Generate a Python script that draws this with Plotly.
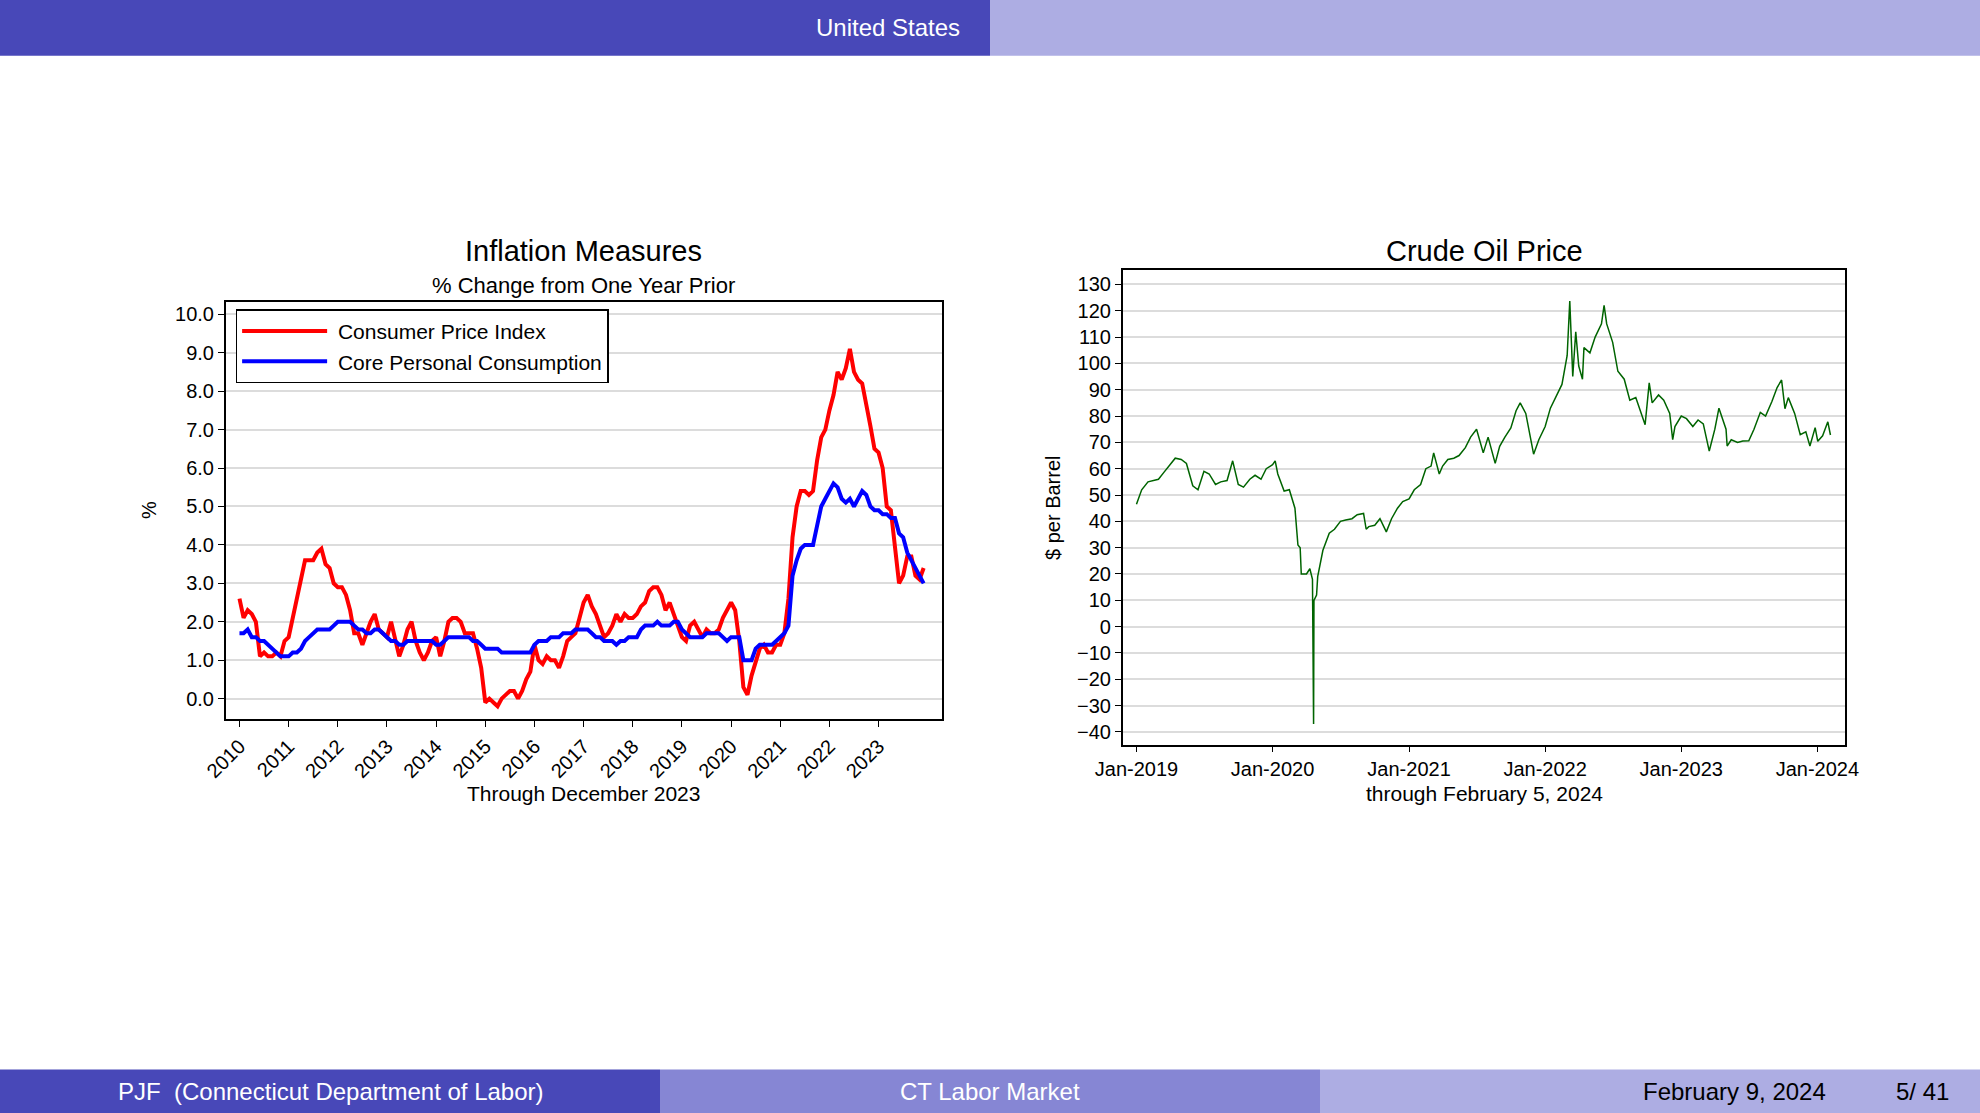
import plotly.graph_objects as go

years = list(range(2010, 2024))
cpi = [2.6,2.1,2.3,2.2,2.0,1.1,1.2,1.1,1.1,1.2,1.1,1.5,
       1.6,2.1,2.7,3.2,3.6,3.6,3.6,3.8,3.9,3.5,3.4,3.0,
       2.9,2.9,2.7,2.3,1.7,1.7,1.4,1.7,2.0,2.2,1.8,1.7,
       1.6,2.0,1.5,1.1,1.4,1.8,2.0,1.5,1.2,1.0,1.2,1.5,
       1.6,1.1,1.5,2.0,2.1,2.1,2.0,1.7,1.7,1.7,1.3,0.8,
       -0.1,0.0,-0.1,-0.2,0.0,0.1,0.2,0.2,0.0,0.2,0.5,0.7,
       1.4,1.0,0.9,1.1,1.0,1.0,0.8,1.1,1.5,1.6,1.7,2.1,
       2.5,2.7,2.4,2.2,1.9,1.6,1.7,1.9,2.2,2.0,2.2,2.1,
       2.1,2.2,2.4,2.5,2.8,2.9,2.9,2.7,2.3,2.5,2.2,1.9,
       1.6,1.5,1.9,2.0,1.8,1.6,1.8,1.7,1.7,1.8,2.1,2.3,
       2.5,2.3,1.5,0.3,0.1,0.6,1.0,1.3,1.4,1.2,1.2,1.4,
       1.4,1.7,2.6,4.2,5.0,5.4,5.4,5.3,5.4,6.2,6.8,7.0,
       7.5,7.9,8.5,8.3,8.6,9.1,8.5,8.3,8.2,7.7,7.1,6.5,
       6.4,6.0,5.0,4.9,4.0,3.0,3.2,3.7,3.7,3.2,3.1,3.4]
core_pce = [1.7,1.7,1.8,1.6,1.6,1.5,1.5,1.4,1.3,1.2,1.1,1.1,
            1.1,1.2,1.2,1.3,1.5,1.6,1.7,1.8,1.8,1.8,1.8,1.9,
            2.0,2.0,2.0,2.0,1.9,1.8,1.8,1.7,1.7,1.8,1.8,1.7,
            1.6,1.5,1.5,1.4,1.4,1.5,1.5,1.5,1.5,1.5,1.5,1.5,
            1.4,1.4,1.5,1.6,1.6,1.6,1.6,1.6,1.6,1.5,1.5,1.4,
            1.3,1.3,1.3,1.3,1.2,1.2,1.2,1.2,1.2,1.2,1.2,1.2,
            1.4,1.5,1.5,1.5,1.6,1.6,1.6,1.7,1.7,1.7,1.8,1.8,
            1.8,1.8,1.7,1.6,1.6,1.5,1.5,1.5,1.4,1.5,1.5,1.6,
            1.6,1.6,1.8,1.9,1.9,1.9,2.0,1.9,1.9,1.9,2.0,2.0,
            1.8,1.7,1.6,1.6,1.6,1.6,1.7,1.7,1.7,1.7,1.6,1.5,
            1.6,1.6,1.6,1.0,1.0,1.0,1.3,1.4,1.4,1.4,1.4,1.5,
            1.6,1.7,1.9,3.2,3.6,3.9,4.0,4.0,4.0,4.5,5.0,5.2,
            5.4,5.6,5.5,5.2,5.1,5.2,5.0,5.2,5.4,5.3,5.0,4.9,
            4.9,4.8,4.8,4.7,4.7,4.3,4.2,3.8,3.6,3.4,3.2,3.0]
months = [y + m / 12 for y in years for m in range(12)]

oil_dates = ["2019-01-01","2019-01-15","2019-02-01","2019-02-15","2019-03-01","2019-03-15","2019-04-01","2019-04-15",
 "2019-05-01","2019-05-15","2019-06-01","2019-06-15","2019-07-01","2019-07-15","2019-08-01","2019-08-15","2019-09-01",
 "2019-09-16","2019-10-01","2019-10-15","2019-11-01","2019-11-15","2019-12-01","2019-12-15",
 "2020-01-01","2020-01-08","2020-01-15","2020-02-01","2020-02-15","2020-03-01","2020-03-09","2020-03-15","2020-03-18",
 "2020-04-01","2020-04-10","2020-04-17","2020-04-20","2020-04-21","2020-04-28","2020-05-01","2020-05-15","2020-06-01",
 "2020-06-15","2020-07-01","2020-07-15","2020-08-01","2020-08-15","2020-09-01","2020-09-08","2020-09-15","2020-10-01",
 "2020-10-15","2020-11-01","2020-11-15","2020-12-01","2020-12-15",
 "2021-01-01","2021-01-15","2021-02-01","2021-02-15","2021-03-01","2021-03-08","2021-03-23","2021-04-01","2021-04-15",
 "2021-05-01","2021-05-15","2021-06-01","2021-06-15","2021-07-01","2021-07-19","2021-08-01","2021-08-20","2021-09-01",
 "2021-09-15","2021-10-01","2021-10-15","2021-10-26","2021-11-10","2021-11-26","2021-12-01","2021-12-15",
 "2022-01-01","2022-01-15","2022-02-01","2022-02-15","2022-03-01","2022-03-08","2022-03-16","2022-03-24","2022-04-01",
 "2022-04-11","2022-04-15","2022-05-01","2022-05-15","2022-06-01","2022-06-08","2022-06-15","2022-07-01","2022-07-15",
 "2022-08-01","2022-08-16","2022-09-01","2022-09-26","2022-10-07","2022-10-15","2022-11-01","2022-11-15","2022-12-01",
 "2022-12-09","2022-12-15",
 "2023-01-01","2023-01-15","2023-02-01","2023-02-15","2023-03-01","2023-03-17","2023-04-01","2023-04-12","2023-05-01",
 "2023-05-04","2023-05-15","2023-06-01","2023-06-15","2023-07-01","2023-07-15","2023-08-01","2023-08-15","2023-09-01",
 "2023-09-15","2023-09-27","2023-10-06","2023-10-15","2023-11-01","2023-11-16","2023-12-01","2023-12-12","2023-12-26",
 "2024-01-02","2024-01-15","2024-01-29","2024-02-05"]
oil_price = [46.5,52,55,55.5,56,58.5,61.5,64,63.5,62,53.5,52,59,58,54,55,55.5,63,54,53,56,57.5,56,60,
 61.5,63,58,51.5,52,45,31,30,20,20,22,18,-37,10,12,19,29,35.5,37,40,40.5,41,42.5,43,37,38,38.5,41,36,41,45,47.5,
 48.5,52,54,60,61,66,58,61,63.5,64,65,68,72,75,66,72,62,68.5,72,75.5,82,85,81,68.5,65.5,71,
 76,83,88,92,103,123.7,95,112,99,94,106,104,110,115,122,115,108,97,94,86,87,76.7,92.6,85,88,86,81,71,76,
 80,79,76,78.5,77,66.7,75,83,75,68.6,71,70,70.5,70.6,75,81.4,80,85.5,90.8,93.7,82.8,87,81,72.9,74,68.6,75.6,
 70.4,72.5,77.8,72.8]

FONT = "Liberation Sans, Arial, sans-serif"
PAD = "\u00a0"
fig = go.Figure()
fig.add_trace(go.Scatter(x=months, y=cpi, mode="lines", name=PAD + "Consumer Price Index",
                         line=dict(color="#ff0000", width=4), xaxis="x", yaxis="y"))
fig.add_trace(go.Scatter(x=months, y=core_pce, mode="lines", name=PAD + "Core Personal Consumption",
                         line=dict(color="#0000ff", width=4), xaxis="x", yaxis="y"))
fig.add_trace(go.Scatter(x=oil_dates, y=oil_price, mode="lines", showlegend=False,
                         line=dict(color="#006400", width=1.5), xaxis="x2", yaxis="y2"))

ax_common = dict(showline=True, linecolor="black", linewidth=1.5, mirror=True, ticks="outside",
                 ticklen=6, tickcolor="black", tickfont=dict(size=20, color="black"), zeroline=False,
                 automargin=False)
fig.update_layout(
    autosize=True, margin=dict(l=0, r=0, t=0, b=0, pad=0, autoexpand=False),
    paper_bgcolor="white", plot_bgcolor="white", font=dict(family=FONT, color="black"),
    xaxis=dict(domain=[0.114, 0.476], anchor="y", range=[2009.72, 2024.3], tickvals=years,
               ticktext=[str(y) for y in years], tickangle=-45, showgrid=False, **ax_common),
    yaxis=dict(domain=[0.354, 0.729], anchor="x", range=[-0.53, 10.33], tickvals=list(range(11)),
               tickformat=".1f", showgrid=True, gridcolor="#dcdcdc", gridwidth=1.5, **ax_common),
    xaxis2=dict(domain=[0.567, 0.932], anchor="y2", type="date", range=["2018-11-25", "2024-03-16"],
                tickvals=["2019-01-01","2020-01-01","2021-01-01","2022-01-01","2023-01-01","2024-01-01"],
                tickformat="%b-%Y", showgrid=False, **ax_common),
    yaxis2=dict(domain=[0.331, 0.757], anchor="x2", range=[-44.8, 135.3], tickvals=list(range(-40, 131, 10)),
                showgrid=True, gridcolor="#dcdcdc", gridwidth=1.5, **ax_common),
    legend=dict(x=0.119, y=0.722, xanchor="left", yanchor="top", bgcolor="white", bordercolor="black",
                borderwidth=1.5, font=dict(size=21), itemwidth=85, tracegroupgap=0),
)

shapes = [
    dict(type="rect", xref="paper", yref="paper", x0=0, x1=0.5, y0=0.95, y1=1, fillcolor="#4848b8", line_width=0),
    dict(type="rect", xref="paper", yref="paper", x0=0.5, x1=1, y0=0.95, y1=1, fillcolor="#adadE3", line_width=0),
    dict(type="rect", xref="paper", yref="paper", x0=0, x1=1/3, y0=0, y1=0.039, fillcolor="#4848b8", line_width=0),
    dict(type="rect", xref="paper", yref="paper", x0=1/3, x1=2/3, y0=0, y1=0.039, fillcolor="#8686d4", line_width=0),
    dict(type="rect", xref="paper", yref="paper", x0=2/3, x1=1, y0=0, y1=0.039, fillcolor="#adadE3", line_width=0),
]
fig.update_layout(shapes=shapes)

def ann(text, x, y, size, color="black", xanchor="center", angle=0):
    fig.add_annotation(text=text, x=x / 1980, y=1 - y / 1113, xref="paper", yref="paper", showarrow=False,
                       xanchor=xanchor, yanchor="middle", textangle=angle,
                       font=dict(size=size, color=color, family=FONT))

ann("United States", 962, 28, 24, "white", "right")
ann("Inflation Measures", 583, 251, 29)
ann("% Change from One Year Prior", 583, 285, 22)
ann("%", 149, 510, 20, angle=-90)
ann("Through December 2023", 583, 793, 21)
ann("Crude Oil Price", 1484, 251, 29)
ann("$ per Barrel", 1053, 508, 20, angle=-90)
ann("through February 5, 2024", 1484, 793, 21)
ann("PJF  (Connecticut Department of Labor)", 331, 1091, 24, "white")
ann("CT Labor Market", 990, 1091, 24, "white")
ann("February 9, 2024", 1734, 1091, 24)
ann("5/ 41", 1922, 1091, 24)

fig.write_html("out.html", default_width="100vw", default_height="100vh",
               config={"displayModeBar": False})
with open("out.html", encoding="utf-8") as f:
    html = f.read()
html = html.replace("<head>", "<head><style>html,body{margin:0;padding:0;overflow:hidden;}</style>", 1)
with open("out.html", "w", encoding="utf-8") as f:
    f.write(html)
